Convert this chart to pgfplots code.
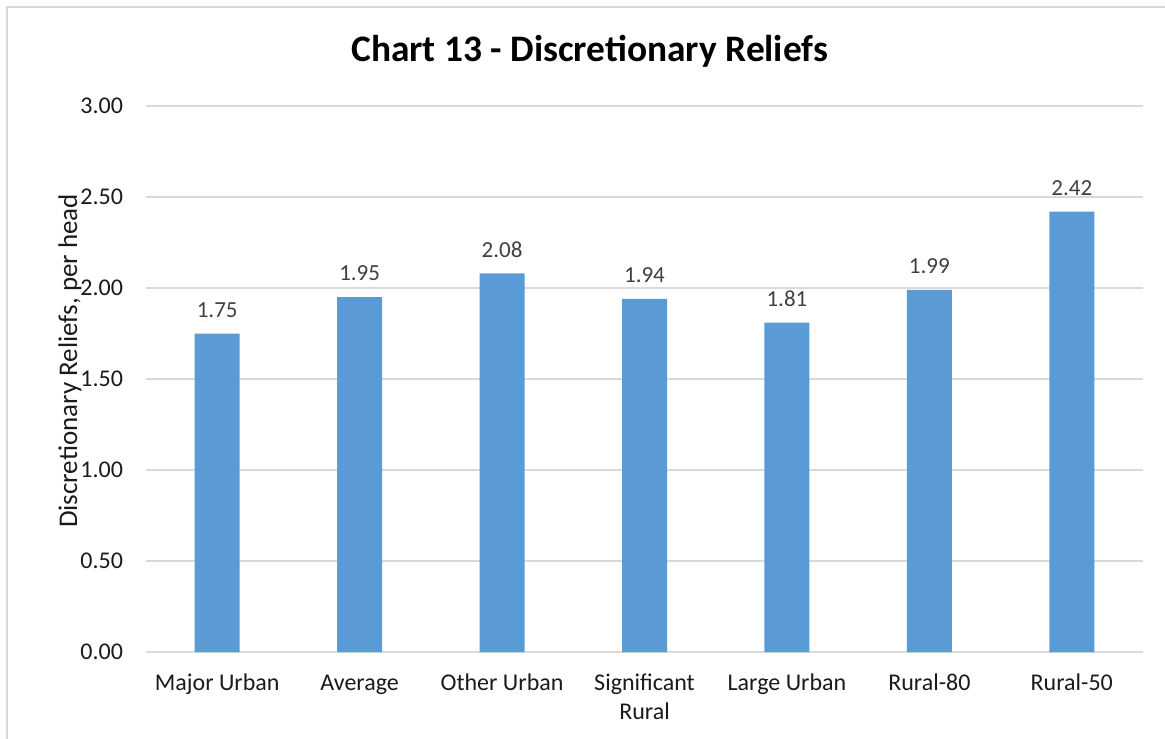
\documentclass[border=0pt]{standalone}
\usepackage{pgfplots}
\pgfplotsset{compat=1.18}
\usepackage{fontspec}
\setmainfont{Carlito}
\definecolor{barblue}{HTML}{5B9BD5}
\definecolor{gridgray}{HTML}{D9D9D9}
\definecolor{framegray}{HTML}{D9D9D9}
\definecolor{labgray}{HTML}{404040}
\definecolor{txt}{HTML}{1A1A1A}
\begin{document}
\begin{tikzpicture}
\path[use as bounding box] (0,0) rectangle (582.5pt,369pt);
\draw[framegray, line width=0.8pt] (3.5pt,-20pt) -- (3.5pt,365.5pt) -- (600pt,365.5pt);
\begin{axis}[
  at={(73pt,43pt)}, anchor=south west,
  scale only axis,
  width=498.5pt, height=273pt,
  xmin=-0.5, xmax=6.5, ymin=0, ymax=3,
  ytick={0,0.5,...,3},
  xtick=data,
  xticklabels={{\strut Major Urban}, {\strut Average}, {\strut Other Urban}, {\strut Significant\\\strut Rural}, {\strut Large Urban}, {\strut Rural-80}, {\strut Rural-50}},
  ybar, bar width=22.5pt,
  axis x line*=bottom,
  axis y line*=left,
  y axis line style={draw=none},
  x axis line style={draw=gridgray, line width=0.8pt, -},
  major tick length=0pt,
  ymajorgrids,
  grid style={gridgray, line width=0.8pt},
  /pgf/number format/.cd, fixed, fixed zerofill, precision=2, assume math mode=true,
  /pgfplots/.cd,
  tick label style={font=\fontsize{12pt}{12pt}\selectfont, text=txt},
  yticklabel style={xshift=-8pt},
  xticklabel style={align=center, yshift=-5.75pt, text=txt, font=\fontsize{12pt}{14.5pt}\selectfont},
  ylabel={Discretionary Reliefs, per head},
  every axis y label/.style={at={(axis description cs:-0.0762,0.533)}, rotate=90, anchor=center, font=\fontsize{13.5pt}{15pt}\selectfont, text=txt},
  title={Chart 13 - Discretionary Reliefs},
  every axis title/.style={at={(axis description cs:0.445,1.1)}, anchor=center, font=\bfseries\fontsize{18.7pt}{21pt}\selectfont},
  nodes near coords,
  every node near coord/.append style={font=\fontsize{11.5pt}{13pt}\selectfont, text=labgray, yshift=4.5pt},
]
\addplot[fill=barblue, draw=none] coordinates {(0,1.75) (1,1.95) (2,2.08) (3,1.94) (4,1.81) (5,1.99) (6,2.42)};
\end{axis}
\end{tikzpicture}
\end{document}
